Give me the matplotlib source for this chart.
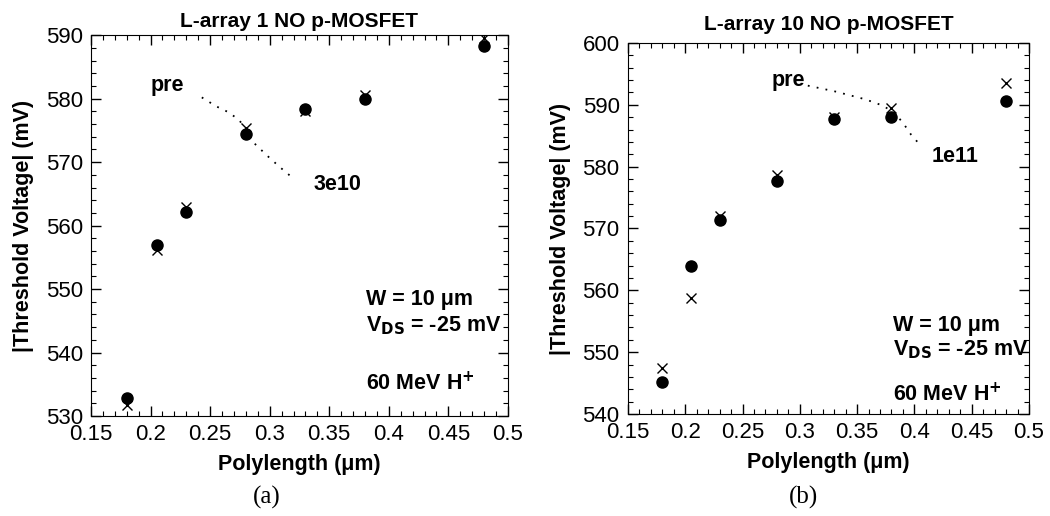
import matplotlib
matplotlib.use("Agg")
import matplotlib.pyplot as plt
from matplotlib.ticker import MultipleLocator

plt.rcParams["font.family"] = ["Liberation Sans", "DejaVu Sans"]

# polylength (um)
lengths = [0.18, 0.205, 0.23, 0.28, 0.33, 0.38, 0.48]

# panel (a): L-array 1, 3e10
a_pre = [532.9, 556.9, 562.1, 574.4, 578.3, 580.0, 588.3]
a_post = [531.7, 556.1, 563.0, 575.4, 578.0, 580.6, 589.6]
a_curve_x = [0.243, 0.255, 0.265, 0.274, 0.281, 0.288, 0.298, 0.308, 0.320]
a_curve_y = [580.2, 578.8, 577.9, 576.7, 575.0, 572.8, 571.0, 569.3, 567.4]

# panel (b): L-array 10, 1e11
b_pre = [545.1, 563.9, 571.3, 577.6, 587.7, 588.1, 590.6]
b_post = [547.4, 558.7, 572.0, 578.7, 588.1, 589.5, 593.6]
b_curve_x = [0.307, 0.330, 0.357, 0.372, 0.382, 0.390, 0.397, 0.405]
b_curve_y = [593.1, 592.2, 590.9, 589.9, 588.8, 587.1, 585.2, 583.5]

fig = plt.figure(figsize=(10.5, 5.16), dpi=100)
ax_a = fig.add_axes([0.0867, 0.1938, 0.397, 0.738])
ax_b = fig.add_axes([0.598, 0.1977, 0.382, 0.719])

FS = 15.5


def style(ax, ylo, yhi, title, tpad):
    ax.set_xlim(0.15, 0.5)
    ax.set_ylim(ylo, yhi)
    ax.xaxis.set_minor_locator(MultipleLocator(0.01))
    ax.yaxis.set_major_locator(MultipleLocator(10))
    ax.yaxis.set_minor_locator(MultipleLocator(2))
    ax.set_xticks([0.15, 0.2, 0.25, 0.3, 0.35, 0.4, 0.45, 0.5],
                  ["0.15", "0.2", "0.25", "0.3", "0.35", "0.4", "0.45", "0.5"])
    ax.tick_params(which="both", direction="in", top=True, right=True, labelsize=16)
    ax.tick_params(axis="x", pad=6)
    ax.tick_params(axis="y", pad=6)
    ax.tick_params(which="major", length=7, width=1)
    ax.tick_params(which="minor", length=3.5, width=0.8)
    ax.set_xlabel("Polylength (\u03bcm)", fontsize=FS, fontweight="bold", labelpad=6)
    ax.set_ylabel("|Threshold Voltage| (mV)", fontsize=FS, fontweight="bold", labelpad=8)
    ax.set_title(title, fontsize=15, fontweight="bold", pad=tpad)


def notes(ax, x, y_w, y_v, y_h):
    kw = dict(fontsize=FS, fontweight="bold", va="center", ha="left")
    ax.text(x, y_w, "W = 10 \u03bcm", **kw)
    ax.text(x, y_v, "V$_{\\mathbf{DS}}$ = -25 mV", **kw)
    ax.text(x, y_h, "60 MeV H$^{\\mathbf{+}}$", **kw)


dots = (0, (1, 4))

# (a)
ax_a.plot(lengths, a_pre, "o", color="black", ms=8, zorder=3)
ax_a.plot(lengths, a_post, "x", color="black", ms=7.5, mew=1, zorder=3)
ax_a.plot(a_curve_x, a_curve_y, color="black", lw=1.3, ls=dots)
ax_a.text(0.2143, 582.1, "pre", fontsize=FS, fontweight="bold", ha="center", va="center")
ax_a.text(0.3365, 566.4, "3e10", fontsize=FS, fontweight="bold", ha="left", va="center")
style(ax_a, 530, 590, "L-array 1 NO p-MOSFET", 6)
notes(ax_a, 0.381, 548.4, 544.3, 535.1)

# (b)
ax_b.plot(lengths, b_pre, "o", color="black", ms=8, zorder=3)
ax_b.plot(lengths, b_post, "x", color="black", ms=7.5, mew=1, zorder=3)
ax_b.plot(b_curve_x, b_curve_y, color="black", lw=1.3, ls=dots)
ax_b.text(0.275, 593.9, "pre", fontsize=FS, fontweight="bold", ha="left", va="center")
ax_b.text(0.4148, 581.7, "1e11", fontsize=FS, fontweight="bold", ha="left", va="center")
style(ax_b, 540, 600, "L-array 10 NO p-MOSFET", 9)
notes(ax_b, 0.381, 554.3, 550.4, 543.1)

fig.text(267 / 1050, 1 - 497 / 516, "(a)", fontsize=18, family="Liberation Serif",
         ha="center", va="center")
fig.text(803 / 1050, 1 - 497 / 516, "(b)", fontsize=18, family="Liberation Serif",
         ha="center", va="center")

fig.savefig("out.png", dpi=100)
